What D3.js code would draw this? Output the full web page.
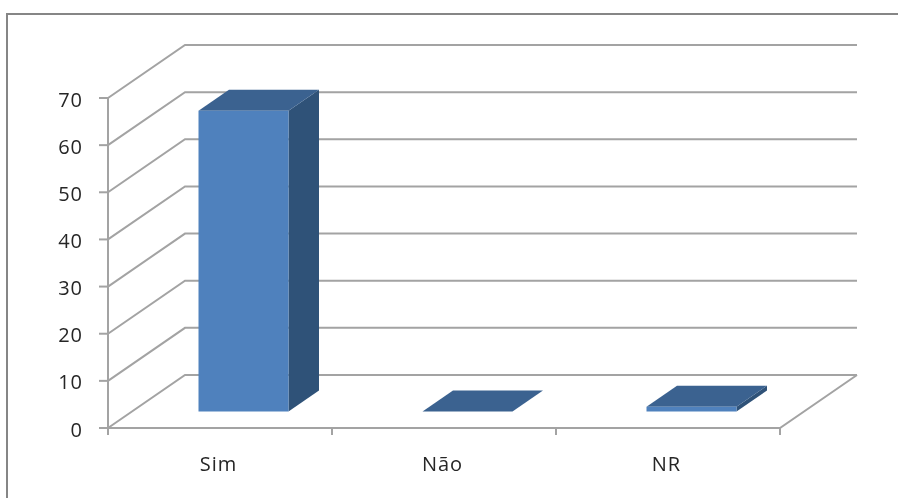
<!DOCTYPE html>
<html>
<head>
<meta charset="utf-8">
<script src="https://cdn.jsdelivr.net/npm/d3@7"></script>
<style>
  html, body { margin: 0; padding: 0; background: #fff; }
  svg { display: block; filter: blur(0.45px); }
  text { font-family: "Open Sans", sans-serif; font-size: 20px; fill: #262626; }
</style>
</head>
<body>
<svg class="chart" width="898" height="498"></svg>
<script>
// values
var categories = ["Sim", "Não", "NR"];
var values = [63.8, 0, 1];
var yTicks = [0, 10, 20, 30, 40, 50, 60, 70];

var svg = d3.select("svg.chart");

// frame: only the top and left edges show in the crop
svg.append("path")
    .attr("d", "M7,498V14H898")
    .attr("fill", "none")
    .attr("stroke", "#868686")
    .attr("stroke-width", 2);

var x = d3.scaleBand().domain(categories).range([108, 780]); // front edge of the floor
var y = d3.scaleLinear().domain([0, 70]).range([428, 98]);

var depthX = 77, depthY = 53; // how far the back wall sits from the front of the chart
var gridColor = "#a3a3a3";

var grid = svg.append("g").attr("fill", "none").attr("stroke", gridColor).attr("stroke-width", 2);

// gridlines: along the side wall, then along the back wall
grid.selectAll("path.wall")
    .data(yTicks)
    .enter().append("path")
    .attr("class", "wall")
    .attr("d", function (t) {
        return "M" + x.range()[0] + "," + y(t) +
            "L" + (x.range()[0] + depthX) + "," + (y(t) - depthY) +
            "H" + (x.range()[1] + depthX);
    });

// floor front edge, right edge of the floor, value axis
grid.append("path").attr("d", "M" + x.range()[0] + "," + y(0) + "H" + x.range()[1] +
    "L" + (x.range()[1] + depthX) + "," + (y(0) - depthY));
grid.append("path").attr("d", "M" + x.range()[0] + "," + y(0) + "V" + y(70));

// ticks on the value axis
grid.selectAll("line.ytick")
    .data(yTicks)
    .enter().append("line")
    .attr("class", "ytick")
    .attr("x1", x.range()[0] - 9).attr("x2", x.range()[0])
    .attr("y1", function (t) { return y(t); })
    .attr("y2", function (t) { return y(t); });

// ticks on the category axis
var catEdges = x.domain().map(function (c) { return x(c); }).concat([x.range()[1]]);
grid.selectAll("line.xtick")
    .data(catEdges)
    .enter().append("line")
    .attr("class", "xtick")
    .attr("x1", function (d) { return d; }).attr("x2", function (d) { return d; })
    .attr("y1", y(0)).attr("y2", y(0) + 7);

svg.selectAll("text.ylabel")
    .data(yTicks)
    .enter().append("text")
    .attr("class", "ylabel")
    .attr("x", 83)
    .attr("y", function (t) { return y(t) + 8.5; })
    .attr("text-anchor", "end")
    .attr("letter-spacing", 1)
    .text(function (t) { return t; });

svg.selectAll("text.xlabel")
    .data(categories)
    .enter().append("text")
    .attr("class", "xlabel")
    .attr("x", function (c) { return x(c) + x.bandwidth() / 2 - 1.5; })
    .attr("y", 471)
    .attr("text-anchor", "middle")
    .attr("letter-spacing", 1)
    .text(function (c) { return c; });

// the 3D bars
var barWidth = 90;
var barShiftX = 23.5, barShiftY = 16.5; // front face sits this far into the floor
var sideX = 30.5, sideY = 21;

var bars = svg.selectAll("g.bar")
    .data(categories.map(function (c, i) { return { name: c, value: values[i] }; }))
    .enter().append("g")
    .attr("class", "bar");

function box(d) {
    var left = x(d.name) + (x.bandwidth() - barWidth) / 2 + barShiftX;
    return {
        left: left,
        right: left + barWidth,
        bottom: y(0) - barShiftY,
        top: y(d.value) - barShiftY
    };
}

bars.append("path") // right side
    .attr("fill", "#2f5278")
    .attr("d", function (d) {
        var b = box(d);
        return "M" + b.right + "," + b.top + "l" + sideX + "," + (-sideY) +
            "V" + (b.bottom - sideY) + "L" + b.right + "," + b.bottom + "Z";
    });
bars.append("path") // top
    .attr("fill", "#3b6290")
    .attr("d", function (d) {
        var b = box(d);
        return "M" + b.left + "," + b.top + "H" + b.right + "l" + sideX + "," + (-sideY) +
            "H" + (b.left + sideX) + "Z";
    });
bars.append("rect") // front
    .attr("fill", "#4f81bd")
    .attr("x", function (d) { return box(d).left; })
    .attr("width", barWidth)
    .attr("y", function (d) { return box(d).top; })
    .attr("height", function (d) { var b = box(d); return b.bottom - b.top; });
</script>
</body>
</html>
